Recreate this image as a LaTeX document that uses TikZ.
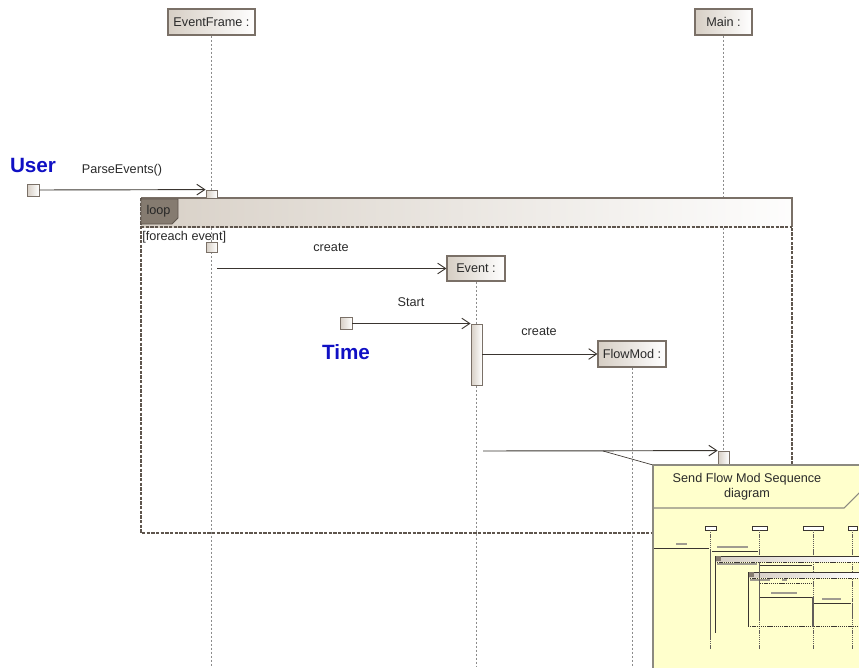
\documentclass[tikz,border=0pt]{standalone}
\usepackage{fontspec}
\setmainfont{Liberation Sans}
\usetikzlibrary{arrows.meta,calc}
\definecolor{bord}{HTML}{7A7067}
\definecolor{boxL}{HTML}{D6CEC4}
\definecolor{tagc}{HTML}{857B70}
\definecolor{lifec}{HTML}{8C8C8C}
\definecolor{framec}{HTML}{5E554D}
\definecolor{msgc}{HTML}{3A3530}
\definecolor{ublue}{HTML}{1010C4}
\definecolor{notec}{HTML}{FFFFCC}
\definecolor{noteb}{HTML}{8C8A80}
\definecolor{txt}{HTML}{2A2A2A}
\definecolor{minitxt}{HTML}{A09C90}
\begin{document}
\begin{tikzpicture}[x=0.75pt,y=-0.75pt,
  font=\fontsize{9.5}{11}\selectfont,
  headbox/.style={draw=bord, line width=0.8pt, left color=boxL, right color=white, minimum height=19.5pt, inner sep=0pt, text=txt},
  actbox/.style={draw=bord, line width=0.6pt, left color=boxL, right color=white, minimum width=8.25pt, inner sep=0pt},
  sqbox/.style={draw=bord, line width=0.6pt, left color=boxL, right color=white, minimum size=9pt, inner sep=0pt},
  lifeline/.style={draw=lifec, line width=0.6pt, dash pattern=on 2pt off 1pt},
  msg/.style={draw=msgc, line width=0.7pt, -{Straight Barb[length=6pt,width=8pt]}},
  lbl/.style={text=txt, inner sep=0pt},
  actor/.style={text=ublue, font=\fontsize{15.5}{18}\selectfont\bfseries, inner sep=0pt},
  frameline/.style={draw=framec, line width=0.9pt, dash pattern=on 2.5pt off 1pt},
  minil/.style={line width=0.3pt, draw=msgc},
  minidash/.style={line width=0.3pt, draw=msgc, dash pattern=on 1pt off 0.6pt},
  minitext/.style={line width=0.9pt, draw=minitxt},
]
\useasboundingbox (0,0) rectangle (859,667);
\clip (0,0) rectangle (859,667);

% lifeline heads
\node[headbox, minimum width=65.25pt] (ef) at (211.5,22) {EventFrame :};
\node[headbox, minimum width=42.75pt] (mn) at (723.5,22) {Main :};

% lifelines of EventFrame and Main
\coordinate (efend) at (211.5,667);
\coordinate (mnend) at (723.5,667);
\draw[lifeline] (ef.south) -- (efend);
\draw[lifeline] (mn.south) -- (mnend);

% loop frame
\shade[left color=boxL!95!white, right color=white!96!boxL] (141,198) rectangle (792,227);
\draw[bord, line width=0.8pt] (141,198) -- (792,198) -- (792,227);
\draw[frameline] (141,227) -- (792,227);
\draw[frameline] (141,198) -- (141,533) -- (792,533) -- (792,227);
\filldraw[fill=tagc, draw=framec, line width=0.6pt] (141,199) -- (178,199) -- (178,218) -- (172,224) -- (141,224) -- cycle;
\node[lbl, text=black!85] (looptag) at (158.5,211) {loop};
\node[lbl, anchor=west] (guard) at (142,237.5) {[foreach event]};

% other lifeline heads
\node[headbox, minimum width=43.5pt, minimum height=18.75pt] (ev) at (476,268.5) {Event :};
\node[headbox, minimum width=51pt] (fm) at (632,354) {FlowMod :};
\coordinate (evend) at (476,667);
\coordinate (fmend) at (632,667);
\draw[lifeline] (ev.south) -- (evend);
\draw[lifeline] (fm.south) -- (fmend);

% activations
\node[actbox, minimum height=6pt] (a1) at (211.5,194) {};
\node[actbox, minimum height=7.5pt] (a2) at (211.5,247) {};
\node[actbox, minimum height=45.75pt] (a3) at (476.5,354.5) {};
\node[actbox, minimum height=10.5pt] (a4) at (723.5,458) {};

% actors / gates
\node[actor] (user) at (33,165) {User};
\node[sqbox] (usq) at (33,190) {};
\node[actor] (time) at (346,352) {Time};
\node[sqbox] (tsq) at (346,323.5) {};

% messages
\draw[msg] (usq.east) -- (a1.north west);
\node[lbl] (l1) at (122,170) {ParseEvents()};
\draw[msg] (a2.east |- ev.west) -- (ev.west);
\node[lbl] (l2) at (331,247) {create};
\draw[msg] (tsq.east) -- (tsq.east -| a3.west);
\node[lbl] (l3) at (411,302) {Start};
\draw[msg] (a3.east |- fm.west) -- (fm.west);
\node[lbl] (l4) at (539,331) {create};
\coordinate (m5s) at (483,451);
\draw[msg] (m5s) -- (a4.north west);

% note
\coordinate (na) at (603,451);
\coordinate (nt) at (653,465);
\draw[msgc, line width=0.5pt] (na) -- (nt);
\filldraw[fill=notec, draw=noteb, line width=0.8pt] (nt) rectangle (866,675);
\draw[noteb, line width=0.8pt] (653,508) -- (844,508) -- (860,492);
\node[lbl, align=center, font=\fontsize{9.5}{11.25}\selectfont] (ntitle) at (747,487) {Send Flow Mod Sequence\\diagram};

% miniature diagram inside the note
\foreach \a/\b in {705/716, 752/767, 803/823, 848/857}{
  \filldraw[fill=white, minil] (\a,526) rectangle (\b,530);
}
\foreach \x in {710.5, 759.5, 813, 852.5}{
  \draw[minidash, draw=msgc!80] (\x,530) -- (\x,649);
}
% loop 1
\shade[left color=boxL, right color=white] (715,556) rectangle (862,561);
\draw[minil] (715,556) -- (862,556);
\fill[tagc] (715,556) rectangle (721,561);
\draw[minidash] (715,562) -- (862,562);
\draw[minil, line width=0.5pt] (715,556) -- (715,633);
\draw[minitext] (717,564) -- (757,564);
% loop 2
\shade[left color=boxL, right color=white] (748,572) rectangle (862,577);
\draw[minil] (748,572) -- (862,572);
\fill[tagc] (748,572) rectangle (754,577);
\draw[minidash] (748,578) -- (862,578);
\draw[minil, line width=0.5pt] (748,572) -- (748,626);
\draw[minidash] (748,626) -- (862,626);
\draw[minitext] (750,580) -- (770,580);
\draw[minitext] (782,580) -- (787,580);
% activations
\draw[msgc!80, line width=1.3pt] (710.5,549) -- (710.5,618);
\draw[msgc!80, line width=1.3pt] (710.5,600) -- (710.5,640);
\draw[msgc!80, line width=1.3pt] (759.5,563) -- (759.5,620);
\draw[msgc!80, line width=1.3pt] (813,597) -- (813,627);
\draw[msgc!80, line width=1.3pt] (852.5,603) -- (852.5,615);
% messages
\draw[minitext] (676,544) -- (687,544);
\draw[minil, line width=0.5pt] (654,548) -- (709,548);
\draw[minitext] (717,547) -- (748,547);
\draw[minil, line width=0.5pt] (712,551) -- (758,551);
\draw[minil, line width=0.6pt] (760,565.5) -- (812,565.5);
\draw[minidash, line width=0.5pt] (760,583) -- (812,583);
\draw[minitext] (771,593) -- (797,593);
\draw[minil, line width=0.6pt] (760,597) -- (812,597);
\draw[minitext] (822,599) -- (841,599);
\draw[minil, line width=0.6pt] (814,603) -- (851,603);
\end{tikzpicture}
\end{document}
